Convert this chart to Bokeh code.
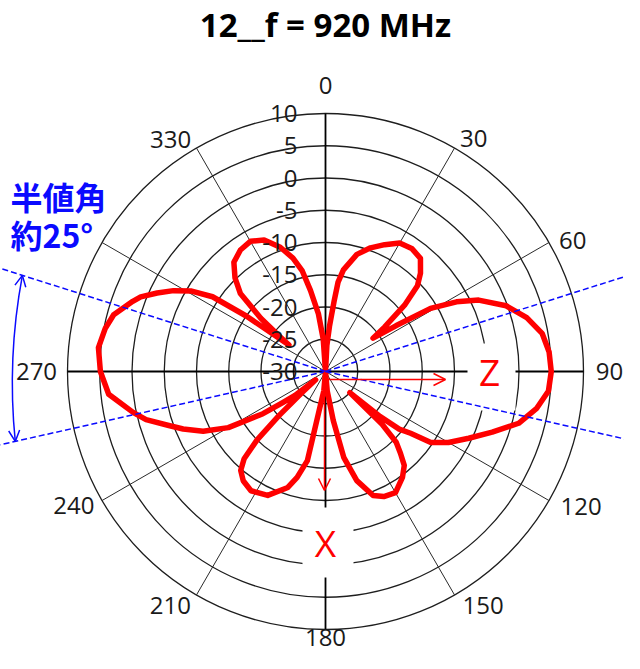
import math
from bokeh.plotting import figure
from bokeh.models import Range1d, Arrow, OpenHead
from bokeh.core.properties import value
from bokeh.embed import file_html
from bokeh.resources import INLINE

# ---------------- DATA ----------------
title_text = "12__f = 920 MHz"
ring_levels = [-30, -25, -20, -15, -10, -5, 0, 5, 10]
ring_labels = ["-30", "-25", "-20", "-15", "-10", "-5", "0", "5", "10"]
angle_ticks = [0, 30, 60, 90, 120, 150, 180, 210, 240, 270, 300, 330]
angle_label_vals = [0, 30, 60, 90, 120, 150, 180, 210, 240, 270, 330]
angle_label_text = ["0", "30", "60", "90", "120", "150", "180", "210", "240", "270", "330"]

pattern_angle = [0, 3, 5, 7, 8, 10, 15, 20, 25, 30, 35, 40, 44, 47, 50, 53, 55,
                 57, 59, 62, 65, 70, 75, 80, 85, 90, 95, 100, 105, 110, 115, 120,
                 124, 126, 128, 129.5, 131, 133, 135, 137.5, 140, 144, 150, 155,
                 159, 164, 168, 171, 175, 180, 185, 189.5, 191.5, 195, 198, 205,
                 212, 217, 220.6, 223, 225, 226.5, 228, 230, 232, 234, 236, 240,
                 244, 248, 251, 255, 258, 264, 270, 276, 281, 285, 290, 292, 295,
                 298, 301, 303.5, 305, 306, 307.5, 309.5, 312.5, 316, 320, 325,
                 330, 335, 340, 344, 347, 349.5, 353, 356, 360]
pattern_db = [-30, -26, -23, -19, -16, -14, -11.2, -9.6, -8.3, -7.0, -6.7, -7.1,
              -8.8, -10.5, -14, -18.5, -21,
              -17, -11, -7, -3.8, -0.2, 2.3, 4.1, 4.8, 5.0, 4.7, 3.2, 1.0, -2.5,
              -5.5, -8.0,
              -10.3, -13.7, -15.5, -19, -25, -18, -14.5, -12.8, -11, -9.7, -8.3,
              -8.6,
              -9.4, -12.4, -16.4, -22.3, -27, -30, -27, -23.4, -15.9, -13, -11.1,
              -8.8,
              -8.2, -8.8, -9.8, -11.5, -15, -20, -25, -28, -24, -21.8, -18.3,
              -12.6,
              -8.9, -6.2, -4.3, -1.2, 0.5, 3.8, 4.9, 5.4, 4.8, 4.0, 1.8, 0.9,
              -1.2,
              -3.3, -5.8, -9, -15, -23, -21, -17, -12.1, -9.8, -7.9, -7.0,
              -6.7, -7.5, -9.5, -11.7, -14, -17.2, -21, -25, -30]

half_upper_deg = 17.6   # blue marker lines above horizontal
half_lower_deg = 12.7   # blue marker lines below horizontal
annot_lines = ["半値角", "約25°"]
axis_z_text = "Z"
axis_x_text = "X"

# ---------------- LAYOUT ----------------
R_OUT = 258.0
DB_MIN, DB_MAX = -30, 10
PX_PER_DB = R_OUT / (DB_MAX - DB_MIN)
# (radius, bearing) where each angle label's centre sits
label_place = {0: (286, 0), 30: (276, 32.5), 60: (280, 62), 90: (284, 90),
               120: (289, 117.8), 150: (282, 146), 180: (266, 180),
               210: (281, 213.5), 240: (285, 242), 270: (289, 270),
               330: (279, 326.3)}


def rad(db):
    return max(0.0, (db - DB_MIN) * PX_PER_DB)


def pol(bearing, r):
    t = math.radians(bearing)
    return r * math.sin(t), r * math.cos(t)


W, H = 624, 653
CX, CY = 325, 371   # polar centre in figure pixels
p = figure(width=W, height=H, output_backend="svg", toolbar_location=None,
           x_range=Range1d(-CX, W - CX), y_range=Range1d(CY - H, CY),
           min_border=0, outline_line_color=None)
p.axis.visible = False
p.grid.visible = False
p.background_fill_color = "white"
p.border_fill_color = "white"

# rings
ring_r = [rad(v) for v in ring_levels if rad(v) > 0]
p.circle(x=[0] * len(ring_r), y=[0] * len(ring_r), radius=ring_r,
         fill_color=None, line_color="#1e1e1e", line_width=1.3)

# spokes
main_ax = [a for a in angle_ticks if a % 90 == 0]
diag = [a for a in angle_ticks if a % 90 != 0]
ex = [pol(a, R_OUT)[0] for a in diag]
ey = [pol(a, R_OUT)[1] for a in diag]
p.segment(x0=[0] * len(diag), y0=[0] * len(diag), x1=ex, y1=ey,
          line_color="#2a2a2a", line_width=1.0)
ex = [pol(a, R_OUT)[0] for a in main_ax]
ey = [pol(a, R_OUT)[1] for a in main_ax]
p.segment(x0=[0] * len(main_ax), y0=[0] * len(main_ax), x1=ex, y1=ey,
          line_color="black", line_width=1.8)

# white boxes behind axis letters
p.rect(x=[166, 2.5], y=[-5.5, -171], width=[48, 51], height=[67, 70],
       fill_color="white", line_color=None)
p.text(x=[164, 0], y=[0, -171], text=[axis_z_text, axis_x_text],
       text_color="#FF0000", text_font=value("Open Sans"), text_font_size="37px",
       text_align="center", text_baseline="middle")

# angle labels
lx, ly = [], []
for a in angle_label_vals:
    r_l, b_l = label_place[a]
    x, y = pol(b_l, r_l)
    lx.append(x)
    ly.append(y)
p.text(x=lx, y=ly, text=angle_label_text, text_color="#1a1a1a",
       text_font=value("Open Sans"), text_font_size="24px",
       text_align="center", text_baseline="middle")

# pattern
px = [pol(a, rad(d))[0] for a, d in zip(pattern_angle, pattern_db)]
py = [pol(a, rad(d))[1] for a, d in zip(pattern_angle, pattern_db)]
p.line(px, py, line_color="#FF0000", line_width=5.5, line_join="round")

# blue half-power lines
BLUE = "#0a0aff"
ray_angles = [180 - half_upper_deg, half_upper_deg, 180 + half_lower_deg, -half_lower_deg]
L = 420
p.segment(x0=[0] * 4, y0=[0] * 4,
          x1=[L * math.cos(math.radians(a)) for a in ray_angles],
          y1=[L * math.sin(math.radians(a)) for a in ray_angles],
          line_color=BLUE, line_width=1.5, line_dash="6 3")

# blue curved double arrow between left rays
RA = 318
a0 = math.radians(180 - half_upper_deg)
a1 = math.radians(180 + half_lower_deg)
P0 = (RA * math.cos(a0), RA * math.sin(a0))
P1 = (RA * math.cos(a1), RA * math.sin(a1))
mid = ((P0[0] + P1[0]) / 2, (P0[1] + P1[1]) / 2)
bulge = 6
C = (mid[0] - 2 * bulge, mid[1])
p.quadratic(x0=[P0[0]], y0=[P0[1]], x1=[P1[0]], y1=[P1[1]], cx=[C[0]], cy=[C[1]],
            line_color=BLUE, line_width=1.5)
for P in (P0, P1):
    p.add_layout(Arrow(x_start=C[0], y_start=C[1], x_end=P[0], y_end=P[1],
                       line_alpha=0,
                       end=OpenHead(size=11, line_color=BLUE, line_width=1.5)))

p.text(x=[-315, -315], y=[176, 138], text=annot_lines, text_color=BLUE,
       text_font=value("Noto Sans CJK JP"), text_font_size="32px",
       text_font_style="bold", text_align="left", text_baseline="middle")

# red axis arrows
p.add_layout(Arrow(x_start=0, y_start=-8, x_end=120, y_end=-8,
                   line_color="#FF0000", line_width=1.5,
                   end=OpenHead(size=12, line_color="#FF0000", line_width=1.5)))
p.add_layout(Arrow(x_start=-1, y_start=0, x_end=-1, y_end=-119,
                   line_color="#FF0000", line_width=1.5,
                   end=OpenHead(size=12, line_color="#FF0000", line_width=1.5)))

# ring labels (on top)
p.text(x=[-28] * len(ring_levels), y=[rad(v) for v in ring_levels], text=ring_labels,
       text_color="#1a1a1a", text_font=value("Open Sans"), text_font_size="24px",
       text_align="right", text_baseline="middle")

# title
p.text(x=[0], y=[347], text=[title_text], text_color="black",
       text_font=value("Open Sans"), text_font_size="33px", text_font_style="bold",
       text_align="center", text_baseline="middle")

open("out.html", "w").write(file_html(p, INLINE))
